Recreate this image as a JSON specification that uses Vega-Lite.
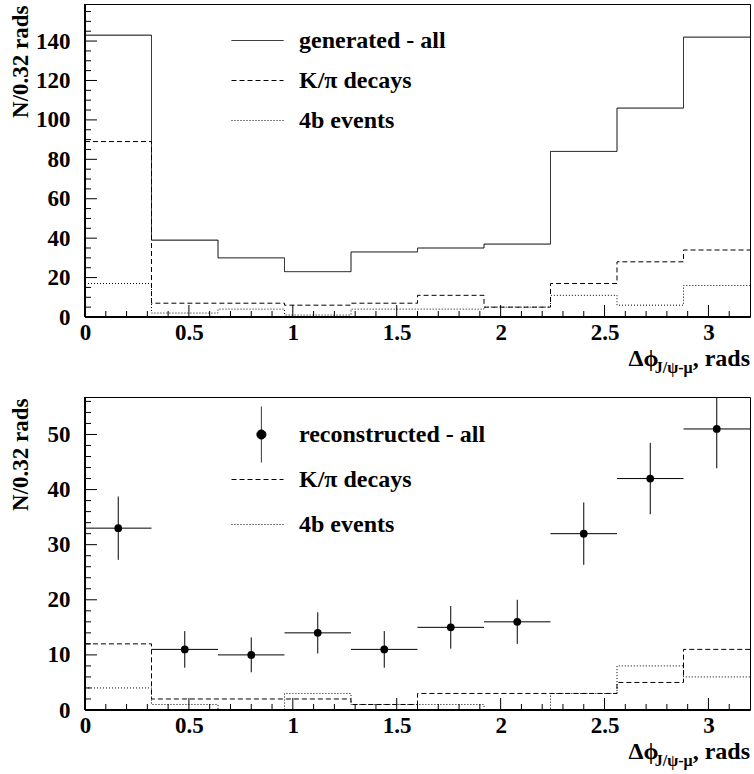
{
  "$schema": "https://vega.github.io/schema/vega-lite/v6.json",
  "background": "white",
  "padding": {"left": 8, "top": 2, "right": 2, "bottom": 0},
  "datasets": {
    "top": [
      {"series": "generated - all", "bin": 1, "lo": 0, "hi": 0.32, "n": 143},
      {"series": "generated - all", "bin": 2, "lo": 0.32, "hi": 0.64, "n": 39},
      {"series": "generated - all", "bin": 3, "lo": 0.64, "hi": 0.96, "n": 30},
      {"series": "generated - all", "bin": 4, "lo": 0.96, "hi": 1.28, "n": 23},
      {"series": "generated - all", "bin": 5, "lo": 1.28, "hi": 1.6, "n": 33},
      {"series": "generated - all", "bin": 6, "lo": 1.6, "hi": 1.92, "n": 35},
      {"series": "generated - all", "bin": 7, "lo": 1.92, "hi": 2.24, "n": 37},
      {"series": "generated - all", "bin": 8, "lo": 2.24, "hi": 2.56, "n": 84},
      {"series": "generated - all", "bin": 9, "lo": 2.56, "hi": 2.88, "n": 106},
      {"series": "generated - all", "bin": 10, "lo": 2.88, "hi": 3.2, "n": 142},
      {"series": "K/π decays", "bin": 1, "lo": 0, "hi": 0.32, "n": 89},
      {"series": "K/π decays", "bin": 2, "lo": 0.32, "hi": 0.64, "n": 7},
      {"series": "K/π decays", "bin": 3, "lo": 0.64, "hi": 0.96, "n": 7},
      {"series": "K/π decays", "bin": 4, "lo": 0.96, "hi": 1.28, "n": 6},
      {"series": "K/π decays", "bin": 5, "lo": 1.28, "hi": 1.6, "n": 7},
      {"series": "K/π decays", "bin": 6, "lo": 1.6, "hi": 1.92, "n": 11},
      {"series": "K/π decays", "bin": 7, "lo": 1.92, "hi": 2.24, "n": 5},
      {"series": "K/π decays", "bin": 8, "lo": 2.24, "hi": 2.56, "n": 17},
      {"series": "K/π decays", "bin": 9, "lo": 2.56, "hi": 2.88, "n": 28},
      {"series": "K/π decays", "bin": 10, "lo": 2.88, "hi": 3.2, "n": 34},
      {"series": "4b events", "bin": 1, "lo": 0, "hi": 0.32, "n": 17},
      {"series": "4b events", "bin": 2, "lo": 0.32, "hi": 0.64, "n": 2},
      {"series": "4b events", "bin": 3, "lo": 0.64, "hi": 0.96, "n": 4},
      {"series": "4b events", "bin": 4, "lo": 0.96, "hi": 1.28, "n": 1},
      {"series": "4b events", "bin": 5, "lo": 1.28, "hi": 1.6, "n": 4},
      {"series": "4b events", "bin": 6, "lo": 1.6, "hi": 1.92, "n": 4},
      {"series": "4b events", "bin": 7, "lo": 1.92, "hi": 2.24, "n": 5},
      {"series": "4b events", "bin": 8, "lo": 2.24, "hi": 2.56, "n": 11},
      {"series": "4b events", "bin": 9, "lo": 2.56, "hi": 2.88, "n": 6},
      {"series": "4b events", "bin": 10, "lo": 2.88, "hi": 3.2, "n": 16}
    ],
    "bottom": [
      {"series": "K/π decays", "bin": 1, "lo": 0, "hi": 0.32, "n": 12},
      {"series": "K/π decays", "bin": 2, "lo": 0.32, "hi": 0.64, "n": 2},
      {"series": "K/π decays", "bin": 3, "lo": 0.64, "hi": 0.96, "n": 2},
      {"series": "K/π decays", "bin": 4, "lo": 0.96, "hi": 1.28, "n": 2},
      {"series": "K/π decays", "bin": 5, "lo": 1.28, "hi": 1.6, "n": 1},
      {"series": "K/π decays", "bin": 6, "lo": 1.6, "hi": 1.92, "n": 3},
      {"series": "K/π decays", "bin": 7, "lo": 1.92, "hi": 2.24, "n": 3},
      {"series": "K/π decays", "bin": 8, "lo": 2.24, "hi": 2.56, "n": 3},
      {"series": "K/π decays", "bin": 9, "lo": 2.56, "hi": 2.88, "n": 5},
      {"series": "K/π decays", "bin": 10, "lo": 2.88, "hi": 3.2, "n": 11},
      {"series": "4b events", "bin": 1, "lo": 0, "hi": 0.32, "n": 4},
      {"series": "4b events", "bin": 2, "lo": 0.32, "hi": 0.64, "n": 1},
      {"series": "4b events", "bin": 3, "lo": 0.64, "hi": 0.96, "n": 0},
      {"series": "4b events", "bin": 4, "lo": 0.96, "hi": 1.28, "n": 3},
      {"series": "4b events", "bin": 5, "lo": 1.28, "hi": 1.6, "n": 1},
      {"series": "4b events", "bin": 6, "lo": 1.6, "hi": 1.92, "n": 1},
      {"series": "4b events", "bin": 7, "lo": 1.92, "hi": 2.24, "n": 0},
      {"series": "4b events", "bin": 8, "lo": 2.24, "hi": 2.56, "n": 3},
      {"series": "4b events", "bin": 9, "lo": 2.56, "hi": 2.88, "n": 8},
      {"series": "4b events", "bin": 10, "lo": 2.88, "hi": 3.2, "n": 6}
    ],
    "points": [
      {"series": "reconstructed - all", "lo": 0, "hi": 0.32, "mid": 0.16, "n": 33, "nlo": 27.26, "nhi": 38.74},
      {"series": "reconstructed - all", "lo": 0.32, "hi": 0.64, "mid": 0.48, "n": 11, "nlo": 7.68, "nhi": 14.32},
      {"series": "reconstructed - all", "lo": 0.64, "hi": 0.96, "mid": 0.8, "n": 10, "nlo": 6.84, "nhi": 13.16},
      {"series": "reconstructed - all", "lo": 0.96, "hi": 1.28, "mid": 1.12, "n": 14, "nlo": 10.26, "nhi": 17.74},
      {"series": "reconstructed - all", "lo": 1.28, "hi": 1.6, "mid": 1.44, "n": 11, "nlo": 7.68, "nhi": 14.32},
      {"series": "reconstructed - all", "lo": 1.6, "hi": 1.92, "mid": 1.76, "n": 15, "nlo": 11.13, "nhi": 18.87},
      {"series": "reconstructed - all", "lo": 1.92, "hi": 2.24, "mid": 2.08, "n": 16, "nlo": 12, "nhi": 20},
      {"series": "reconstructed - all", "lo": 2.24, "hi": 2.56, "mid": 2.4, "n": 32, "nlo": 26.34, "nhi": 37.66},
      {"series": "reconstructed - all", "lo": 2.56, "hi": 2.88, "mid": 2.72, "n": 42, "nlo": 35.52, "nhi": 48.48},
      {"series": "reconstructed - all", "lo": 2.88, "hi": 3.2, "mid": 3.04, "n": 51, "nlo": 43.86, "nhi": 58.14}
    ],
    "legTop": [
      {"series": "generated - all"},
      {"series": "K/π decays"},
      {"series": "4b events"}
    ],
    "legBottom": [
      {"series": "reconstructed - all"},
      {"series": "K/π decays"},
      {"series": "4b events"}
    ],
    "xMaj": [{"v": 0.5}, {"v": 1}, {"v": 1.5}, {"v": 2}, {"v": 2.5}, {"v": 3}],
    "xMin": [{"v": 0.1}, {"v": 0.2}, {"v": 0.3}, {"v": 0.4}, {"v": 0.6}, {"v": 0.7}, {"v": 0.8}, {"v": 0.9}, {"v": 1.1}, {"v": 1.2}, {"v": 1.3}, {"v": 1.4}, {"v": 1.6}, {"v": 1.7}, {"v": 1.8}, {"v": 1.9}, {"v": 2.1}, {"v": 2.2}, {"v": 2.3}, {"v": 2.4}, {"v": 2.6}, {"v": 2.7}, {"v": 2.8}, {"v": 2.9}, {"v": 3.1}],
    "yTopMaj": [{"v": 20}, {"v": 40}, {"v": 60}, {"v": 80}, {"v": 100}, {"v": 120}, {"v": 140}],
    "yTopMin": [{"v": 5}, {"v": 10}, {"v": 15}, {"v": 25}, {"v": 30}, {"v": 35}, {"v": 45}, {"v": 50}, {"v": 55}, {"v": 65}, {"v": 70}, {"v": 75}, {"v": 85}, {"v": 90}, {"v": 95}, {"v": 105}, {"v": 110}, {"v": 115}, {"v": 125}, {"v": 130}, {"v": 135}, {"v": 145}, {"v": 150}, {"v": 155}],
    "yBotMaj": [{"v": 10}, {"v": 20}, {"v": 30}, {"v": 40}, {"v": 50}],
    "yBotMin": [{"v": 2}, {"v": 4}, {"v": 6}, {"v": 8}, {"v": 12}, {"v": 14}, {"v": 16}, {"v": 18}, {"v": 22}, {"v": 24}, {"v": 26}, {"v": 28}, {"v": 32}, {"v": 34}, {"v": 36}, {"v": 38}, {"v": 42}, {"v": 44}, {"v": 46}, {"v": 48}, {"v": 52}, {"v": 54}, {"v": 56}]
  },
  "vconcat": [
    {
      "width": 665,
      "height": 313,
      "resolve": {"axis": {"x": "independent", "y": "independent"}},
      "layer": [
        {
          "data": {"name": "top"},
          "transform": [{"fold": ["lo", "hi"], "as": ["edge", "xpos"]}],
          "mark": {"type": "line", "color": "black", "strokeWidth": 1, "clip": true},
          "encoding": {
            "x": {
              "field": "xpos", "type": "quantitative",
              "scale": {"domain": [0, 3.2], "nice": false, "zero": false},
              "axis": {
                "orient": "bottom", "title": null, "domain": false, "ticks": false, "tickSize": 0,
                "values": [0, 0.5, 1, 1.5, 2, 2.5, 3],
                "labelExpr": "'' + datum.value",
                "labelPadding": 4
              }
            },
            "y": {
              "field": "n", "type": "quantitative",
              "scale": {"domain": [0, 158.8], "nice": false},
              "axis": {
                "orient": "left", "title": "N/0.32 rads", "domain": false, "ticks": false, "tickSize": 0,
                "values": [0, 20, 40, 60, 80, 100, 120, 140],
                "labelExpr": "'' + datum.value",
                "labelPadding": 15,
                "titleAngle": -90, "titleAlign": "right", "titleBaseline": "middle",
                "titleX": -65, "titleY": 1
              }
            },
            "strokeDash": {
              "field": "series", "type": "nominal",
              "scale": {"domain": ["generated - all", "K/π decays", "4b events"], "range": [[1, 0], [5, 3], [1, 2]]},
              "legend": {"legendX": 159, "legendY": 23, "rowPadding": 14,
                "encode": {"symbols": {"update": {"fill": {"value": "black"}, "stroke": {"value": "black"}, "opacity": {"value": 1}, "strokeDash": {"condition": [{"test": "datum.value === 'K/π decays'", "value": [8, 5]}, {"test": "datum.value === '4b events'", "value": [1.5, 7.5]}], "value": [1, 0]}}}}}
            },
            "order": [{"field": "bin"}, {"field": "edge", "sort": "descending"}]
          }
        },
        {
          "data": {"name": "legTop"},
          "transform": [{"filter": "false"}],
          "mark": {"type": "point", "filled": false, "color": "black", "strokeWidth": 1},
          "encoding": {
            "shape": {
              "field": "series", "type": "nominal",
              "scale": {"domain": ["generated - all", "K/π decays", "4b events"], "range": ["M-2,0H2", "M-2,0H2", "M-2,0H2"]},
              "legend": {"legendX": 159, "legendY": 23, "rowPadding": 14,
                "encode": {"symbols": {"update": {"fill": {"value": "black"}, "stroke": {"value": "black"}, "opacity": {"value": 1}, "strokeDash": {"condition": [{"test": "datum.value === 'K/π decays'", "value": [8, 5]}, {"test": "datum.value === '4b events'", "value": [1.5, 7.5]}], "value": [1, 0]}}}}}
            },
            "strokeDash": {
              "field": "series", "type": "nominal",
              "scale": {"domain": ["generated - all", "K/π decays", "4b events"], "range": [[1, 0], [5, 3], [1, 2]]},
              "legend": {"legendX": 159, "legendY": 23, "rowPadding": 14,
                "encode": {"symbols": {"update": {"fill": {"value": "black"}, "stroke": {"value": "black"}, "opacity": {"value": 1}, "strokeDash": {"condition": [{"test": "datum.value === 'K/π decays'", "value": [8, 5]}, {"test": "datum.value === '4b events'", "value": [1.5, 7.5]}], "value": [1, 0]}}}}}
            }
          }
        },
        {
          "data": {"name": "xMaj"},
          "mark": {"type": "rule", "color": "black", "strokeWidth": 1},
          "encoding": {
            "x": {"field": "v", "type": "quantitative", "axis": null},
            "y": {"datum": 0, "type": "quantitative", "axis": null},
            "y2": {"datum": 6.09}
          }
        },
        {
          "data": {"name": "xMin"},
          "mark": {"type": "rule", "color": "black", "strokeWidth": 1},
          "encoding": {
            "x": {"field": "v", "type": "quantitative", "axis": null},
            "y": {"datum": 0, "type": "quantitative", "axis": null},
            "y2": {"datum": 3.04}
          }
        },
        {
          "data": {"name": "yTopMaj"},
          "mark": {"type": "rule", "color": "black", "strokeWidth": 1},
          "encoding": {
            "y": {"field": "v", "type": "quantitative", "axis": null},
            "x": {"datum": 0, "type": "quantitative", "axis": null},
            "x2": {"datum": 0.0577}
          }
        },
        {
          "data": {"name": "yTopMin"},
          "mark": {"type": "rule", "color": "black", "strokeWidth": 1},
          "encoding": {
            "y": {"field": "v", "type": "quantitative", "axis": null},
            "x": {"datum": 0, "type": "quantitative", "axis": null},
            "x2": {"datum": 0.0289}
          }
        },
        {
          "data": {"values": [{}]},
          "mark": {"type": "rule", "color": "black", "strokeWidth": 2},
          "encoding": {
            "x": {"datum": 0, "type": "quantitative", "axis": null},
            "x2": {"datum": 3.2},
            "y": {"datum": 0, "type": "quantitative", "axis": null}
          }
        },
        {
          "data": {"values": [{}]},
          "mark": {"type": "rule", "color": "black", "strokeWidth": 2},
          "encoding": {
            "x": {"datum": 0, "type": "quantitative", "axis": null},
            "y": {"datum": 0, "type": "quantitative", "axis": null},
            "y2": {"datum": 158.8}
          }
        },
        {
          "data": {"values": [{"t": "Δϕ"}]},
          "mark": {"type": "text", "align": "left", "baseline": "alphabetic", "font": "Liberation Serif", "fontWeight": "bold", "fontSize": 24, "color": "black", "dx": -121.6, "dy": 49},
          "encoding": {
            "x": {"datum": 3.2, "type": "quantitative", "axis": null},
            "y": {"datum": 0, "type": "quantitative", "axis": null},
            "text": {"field": "t"}
          }
        },
        {
          "data": {"values": [{"t": "J/ψ-μ"}]},
          "mark": {"type": "text", "align": "left", "baseline": "alphabetic", "font": "Liberation Serif", "fontWeight": "bold", "fontSize": 16, "color": "black", "dx": -95.3, "dy": 56},
          "encoding": {
            "x": {"datum": 3.2, "type": "quantitative", "axis": null},
            "y": {"datum": 0, "type": "quantitative", "axis": null},
            "text": {"field": "t"}
          }
        },
        {
          "data": {"values": [{"t": ", rads"}]},
          "mark": {"type": "text", "align": "right", "baseline": "alphabetic", "font": "Liberation Serif", "fontWeight": "bold", "fontSize": 24, "color": "black", "dx": 0, "dy": 49},
          "encoding": {
            "x": {"datum": 3.2, "type": "quantitative", "axis": null},
            "y": {"datum": 0, "type": "quantitative", "axis": null},
            "text": {"field": "t"}
          }
        }
      ]
    },
    {
      "width": 665,
      "height": 313,
      "resolve": {"axis": {"x": "independent", "y": "independent"}},
      "layer": [
        {
          "data": {"name": "bottom"},
          "transform": [{"fold": ["lo", "hi"], "as": ["edge", "xpos"]}],
          "mark": {"type": "line", "color": "black", "strokeWidth": 1, "clip": true},
          "encoding": {
            "x": {
              "field": "xpos", "type": "quantitative",
              "scale": {"domain": [0, 3.2], "nice": false, "zero": false},
              "axis": {
                "orient": "bottom", "title": null, "domain": false, "ticks": false, "tickSize": 0,
                "values": [0, 0.5, 1, 1.5, 2, 2.5, 3],
                "labelExpr": "'' + datum.value",
                "labelPadding": 4
              }
            },
            "y": {
              "field": "n", "type": "quantitative",
              "scale": {"domain": [0, 56.8], "nice": false},
              "axis": {
                "orient": "left", "title": "N/0.32 rads", "domain": false, "ticks": false, "tickSize": 0,
                "values": [0, 10, 20, 30, 40, 50],
                "labelExpr": "'' + datum.value",
                "labelPadding": 15,
                "titleAngle": -90, "titleAlign": "right", "titleBaseline": "middle",
                "titleX": -65, "titleY": 1
              }
            },
            "strokeDash": {
              "field": "series", "type": "nominal",
              "scale": {"domain": ["reconstructed - all", "K/π decays", "4b events"], "range": [[1, 0], [5, 3], [1, 2]]},
              "legend": {"legendX": 159, "legendY": 24, "rowPadding": -16,
                "encode": {"symbols": {"update": {"fill": {"value": "black"}, "stroke": {"value": "black"}, "opacity": {"value": 1}, "strokeDash": {"condition": [{"test": "datum.value === 'K/π decays'", "value": [8, 5]}, {"test": "datum.value === '4b events'", "value": [1.5, 7.5]}], "value": [1, 0]}}}}}
            },
            "order": [{"field": "bin"}, {"field": "edge", "sort": "descending"}]
          }
        },
        {
          "data": {"name": "points"},
          "mark": {"type": "rule", "color": "black", "strokeWidth": 1, "clip": true},
          "encoding": {
            "x": {"field": "lo", "type": "quantitative", "axis": null},
            "x2": {"field": "hi"},
            "y": {"field": "n", "type": "quantitative", "axis": null}
          }
        },
        {
          "data": {"name": "points"},
          "mark": {"type": "rule", "color": "black", "strokeWidth": 1, "clip": true},
          "encoding": {
            "x": {"field": "mid", "type": "quantitative", "axis": null},
            "y": {"field": "nlo", "type": "quantitative", "axis": null},
            "y2": {"field": "nhi"}
          }
        },
        {
          "data": {"name": "points"},
          "mark": {"type": "point", "filled": true, "color": "black", "opacity": 1, "size": 60, "shape": "circle"},
          "encoding": {
            "x": {"field": "mid", "type": "quantitative", "axis": null},
            "y": {"field": "n", "type": "quantitative", "axis": null}
          }
        },
        {
          "data": {"name": "legBottom"},
          "transform": [{"filter": "false"}],
          "mark": {"type": "point", "filled": false, "color": "black", "strokeWidth": 1},
          "encoding": {
            "shape": {
              "field": "series", "type": "nominal",
              "scale": {"domain": ["reconstructed - all", "K/π decays", "4b events"], "range": ["M0.3,-2.15V2.15M0.65,0A0.35,0.35,0,1,1,-0.05,0A0.35,0.35,0,1,1,0.65,0M0.57,0A0.27,0.27,0,1,1,0.03,0A0.27,0.27,0,1,1,0.57,0M0.49,0A0.19,0.19,0,1,1,0.11,0A0.19,0.19,0,1,1,0.49,0M0.41,0A0.11,0.11,0,1,1,0.19,0A0.11,0.11,0,1,1,0.41,0M0.34,0A0.04,0.04,0,1,1,0.26,0A0.04,0.04,0,1,1,0.34,0", "M0,-2.15M0,2.15M-2,0H2", "M0,-2.15M0,2.15M-2,0H2"]},
              "legend": {"legendX": 159, "legendY": 24, "rowPadding": -16,
                "encode": {"symbols": {"update": {"fill": {"value": "black"}, "stroke": {"value": "black"}, "opacity": {"value": 1}, "strokeDash": {"condition": [{"test": "datum.value === 'K/π decays'", "value": [8, 5]}, {"test": "datum.value === '4b events'", "value": [1.5, 7.5]}], "value": [1, 0]}}}}}
            },
            "strokeDash": {
              "field": "series", "type": "nominal",
              "scale": {"domain": ["reconstructed - all", "K/π decays", "4b events"], "range": [[1, 0], [5, 3], [1, 2]]},
              "legend": {"legendX": 159, "legendY": 24, "rowPadding": -16,
                "encode": {"symbols": {"update": {"fill": {"value": "black"}, "stroke": {"value": "black"}, "opacity": {"value": 1}, "strokeDash": {"condition": [{"test": "datum.value === 'K/π decays'", "value": [8, 5]}, {"test": "datum.value === '4b events'", "value": [1.5, 7.5]}], "value": [1, 0]}}}}}
            }
          }
        },
        {
          "data": {"name": "xMaj"},
          "mark": {"type": "rule", "color": "black", "strokeWidth": 1},
          "encoding": {
            "x": {"field": "v", "type": "quantitative", "axis": null},
            "y": {"datum": 0, "type": "quantitative", "axis": null},
            "y2": {"datum": 2.18}
          }
        },
        {
          "data": {"name": "xMin"},
          "mark": {"type": "rule", "color": "black", "strokeWidth": 1},
          "encoding": {
            "x": {"field": "v", "type": "quantitative", "axis": null},
            "y": {"datum": 0, "type": "quantitative", "axis": null},
            "y2": {"datum": 1.09}
          }
        },
        {
          "data": {"name": "yBotMaj"},
          "mark": {"type": "rule", "color": "black", "strokeWidth": 1},
          "encoding": {
            "y": {"field": "v", "type": "quantitative", "axis": null},
            "x": {"datum": 0, "type": "quantitative", "axis": null},
            "x2": {"datum": 0.0577}
          }
        },
        {
          "data": {"name": "yBotMin"},
          "mark": {"type": "rule", "color": "black", "strokeWidth": 1},
          "encoding": {
            "y": {"field": "v", "type": "quantitative", "axis": null},
            "x": {"datum": 0, "type": "quantitative", "axis": null},
            "x2": {"datum": 0.0289}
          }
        },
        {
          "data": {"values": [{}]},
          "mark": {"type": "rule", "color": "black", "strokeWidth": 2},
          "encoding": {
            "x": {"datum": 0, "type": "quantitative", "axis": null},
            "x2": {"datum": 3.2},
            "y": {"datum": 0, "type": "quantitative", "axis": null}
          }
        },
        {
          "data": {"values": [{}]},
          "mark": {"type": "rule", "color": "black", "strokeWidth": 2},
          "encoding": {
            "x": {"datum": 0, "type": "quantitative", "axis": null},
            "y": {"datum": 0, "type": "quantitative", "axis": null},
            "y2": {"datum": 56.8}
          }
        },
        {
          "data": {"values": [{"t": "Δϕ"}]},
          "mark": {"type": "text", "align": "left", "baseline": "alphabetic", "font": "Liberation Serif", "fontWeight": "bold", "fontSize": 24, "color": "black", "dx": -121.6, "dy": 49},
          "encoding": {
            "x": {"datum": 3.2, "type": "quantitative", "axis": null},
            "y": {"datum": 0, "type": "quantitative", "axis": null},
            "text": {"field": "t"}
          }
        },
        {
          "data": {"values": [{"t": "J/ψ-μ"}]},
          "mark": {"type": "text", "align": "left", "baseline": "alphabetic", "font": "Liberation Serif", "fontWeight": "bold", "fontSize": 16, "color": "black", "dx": -95.3, "dy": 56},
          "encoding": {
            "x": {"datum": 3.2, "type": "quantitative", "axis": null},
            "y": {"datum": 0, "type": "quantitative", "axis": null},
            "text": {"field": "t"}
          }
        },
        {
          "data": {"values": [{"t": ", rads"}]},
          "mark": {"type": "text", "align": "right", "baseline": "alphabetic", "font": "Liberation Serif", "fontWeight": "bold", "fontSize": 24, "color": "black", "dx": 0, "dy": 49},
          "encoding": {
            "x": {"datum": 3.2, "type": "quantitative", "axis": null},
            "y": {"datum": 0, "type": "quantitative", "axis": null},
            "text": {"field": "t"}
          }
        }
      ]
    }
  ],
  "bounds": "flush",
  "spacing": 80,
  "resolve": {"scale": {"x": "independent", "y": "independent", "strokeDash": "independent", "shape": "independent"}, "legend": {"strokeDash": "independent", "shape": "independent"}},
  "config": {
    "font": "Liberation Serif",
    "view": {"stroke": "black", "strokeWidth": 1},
    "axis": {
      "labelFont": "Liberation Serif", "labelFontWeight": "bold", "labelFontSize": 23, "labelColor": "black",
      "titleFont": "Liberation Serif", "titleFontWeight": "bold", "titleFontSize": 23, "titleColor": "black",
      "grid": false, "labelOverlap": false, "labelFlush": false, "zindex": 1
    },
    "legend": {
      "orient": "none", "title": null, "padding": 0,
      "labelFont": "Liberation Serif", "labelFontWeight": "bold", "labelFontSize": 24, "labelColor": "black",
      "labelOffset": 28, "labelLimit": 400, "symbolSize": 676, "symbolStrokeColor": "black", "symbolStrokeWidth": 1,
      "symbolFillColor": "black"
    }
  }
}
